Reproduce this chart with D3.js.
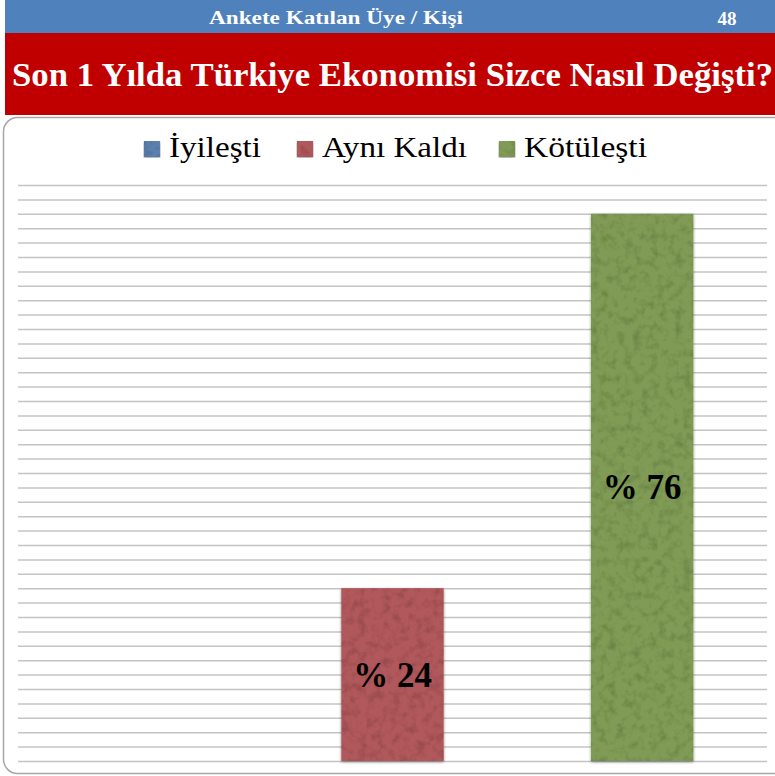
<!DOCTYPE html>
<html>
<head>
<meta charset="utf-8">
<script src="https://cdn.jsdelivr.net/npm/d3@7"></script>
<style>
  body { margin: 0; background: #fff; }
  svg { display: block; }
</style>
</head>
<body>
<svg id="chart"></svg>
<script>
// chart data
const categories = ["İyileşti", "Aynı Kaldı", "Kötüleşti"];
const values = [0, 24, 76];
const colors = ["#5b7fae", "#b0585b", "#7f9b55"];
const gridTicks = d3.range(0, 81, 2);
const headerText = "Ankete Katılan Üye / Kişi";
const headerCount = "48";
const title = "Son 1 Yılda Türkiye Ekonomisi Sizce Nasıl Değişti?";

const W = 775, H = 776;
const serif = "'Liberation Serif', 'DejaVu Serif', serif";

const svg = d3.select("#chart").attr("width", W).attr("height", H);

// textures + shadow
const defs = svg.append("defs");
const tex = defs.append("filter").attr("id", "tex")
  .attr("x", "-5%").attr("y", "-5%").attr("width", "110%").attr("height", "110%");
tex.append("feTurbulence").attr("type", "fractalNoise")
  .attr("baseFrequency", "0.12").attr("numOctaves", 3).attr("seed", 4).attr("result", "noise");
tex.append("feColorMatrix").attr("in", "noise").attr("type", "matrix")
  .attr("values", "0 0 0 0 0  0 0 0 0 0  0 0 0 0 0  0 0 0 -0.7 0.38").attr("result", "dark");
tex.append("feComposite").attr("in", "dark").attr("in2", "SourceGraphic")
  .attr("operator", "in").attr("result", "darkIn");
tex.append("feGaussianBlur").attr("in", "SourceAlpha").attr("stdDeviation", 1.5).attr("result", "blur");
tex.append("feOffset").attr("in", "blur").attr("dy", 1).attr("result", "sh");
tex.append("feComponentTransfer").attr("in", "sh").attr("result", "shadow")
  .append("feFuncA").attr("type", "linear").attr("slope", 0.45);
const merge = tex.append("feMerge");
merge.append("feMergeNode").attr("in", "shadow");
merge.append("feMergeNode").attr("in", "SourceGraphic");
merge.append("feMergeNode").attr("in", "darkIn");

// header bars
svg.append("rect").attr("x", 5).attr("y", 0).attr("width", W - 5).attr("height", 33)
  .attr("fill", "#4f81bd");
svg.append("text").attr("x", 209).attr("y", 24)
  .attr("font-family", serif).attr("font-weight", "bold").attr("font-size", 18)
  .attr("fill", "#fff").attr("textLength", 254).attr("lengthAdjust", "spacingAndGlyphs")
  .text(headerText);
svg.append("text").attr("x", 727).attr("y", 25).attr("text-anchor", "middle")
  .attr("font-family", serif).attr("font-weight", "bold").attr("font-size", 19)
  .attr("fill", "#fff").text(headerCount);

svg.append("rect").attr("x", 5).attr("y", 33).attr("width", W - 5).attr("height", 82)
  .attr("fill", "#c00000");
svg.append("text").attr("x", 12).attr("y", 86)
  .attr("font-family", serif).attr("font-weight", "bold").attr("font-size", 33)
  .attr("fill", "#fff").attr("textLength", 761).attr("lengthAdjust", "spacingAndGlyphs")
  .text(title);

// chart panel
svg.append("rect").attr("x", 3.5).attr("y", 117.5).attr("width", W + 20).attr("height", 656)
  .attr("rx", 14).attr("fill", "#fff").attr("stroke", "#a6a6a6").attr("stroke-width", 1.5);

// legend
const legendPos = [144, 297, 499];
const legendW = [92, 145, 123];
const lg = svg.append("g");
categories.forEach((c, i) => {
  lg.append("rect").attr("x", legendPos[i]).attr("y", 141).attr("width", 16).attr("height", 16)
    .attr("fill", colors[i]).attr("filter", "url(#tex)");
  lg.append("text").attr("x", legendPos[i] + 25).attr("y", 157)
    .attr("font-family", serif).attr("font-size", 29).attr("fill", "#000")
    .attr("textLength", legendW[i]).attr("lengthAdjust", "spacingAndGlyphs")
    .text(c);
});

// scales
const margin = { left: 18, right: 8, top: 185, bottom: 15 };
const x = d3.scaleBand().domain(categories).range([margin.left, W - margin.right])
  .paddingInner(0.59).paddingOuter(0.295);
const y = d3.scaleLinear().domain([0, 80]).range([H - margin.bottom, margin.top]);

// gridlines
svg.append("g")
  .attr("transform", "translate(" + margin.left + ",0)")
  .call(d3.axisLeft(y).tickValues(gridTicks).tickSize(-(W - margin.left - margin.right)).tickFormat(""))
  .call((g) => g.select(".domain").remove())
  .selectAll("line").attr("stroke", "#c4c4c4").attr("stroke-width", 1.5);

// bars
const data = categories.map((c, i) => ({ cat: c, value: values[i], color: colors[i] }));
const bars = data.filter((d) => d.value > 0);
svg.append("g").selectAll("rect").data(bars).join("rect")
  .attr("x", (d) => x(d.cat))
  .attr("y", (d) => y(d.value))
  .attr("width", x.bandwidth())
  .attr("height", (d) => y(0) - y(d.value))
  .attr("fill", (d) => d.color)
  .attr("filter", "url(#tex)");

// value labels
svg.append("g").selectAll("text").data(bars).join("text")
  .attr("x", (d) => x(d.cat) + x.bandwidth() / 2)
  .attr("y", (d) => (y(d.value) + y(0)) / 2 + 12)
  .attr("text-anchor", "middle")
  .attr("font-family", serif).attr("font-weight", "bold").attr("font-size", 35)
  .attr("fill", "#000")
  .text((d) => "% " + d.value);
</script>
</body>
</html>
